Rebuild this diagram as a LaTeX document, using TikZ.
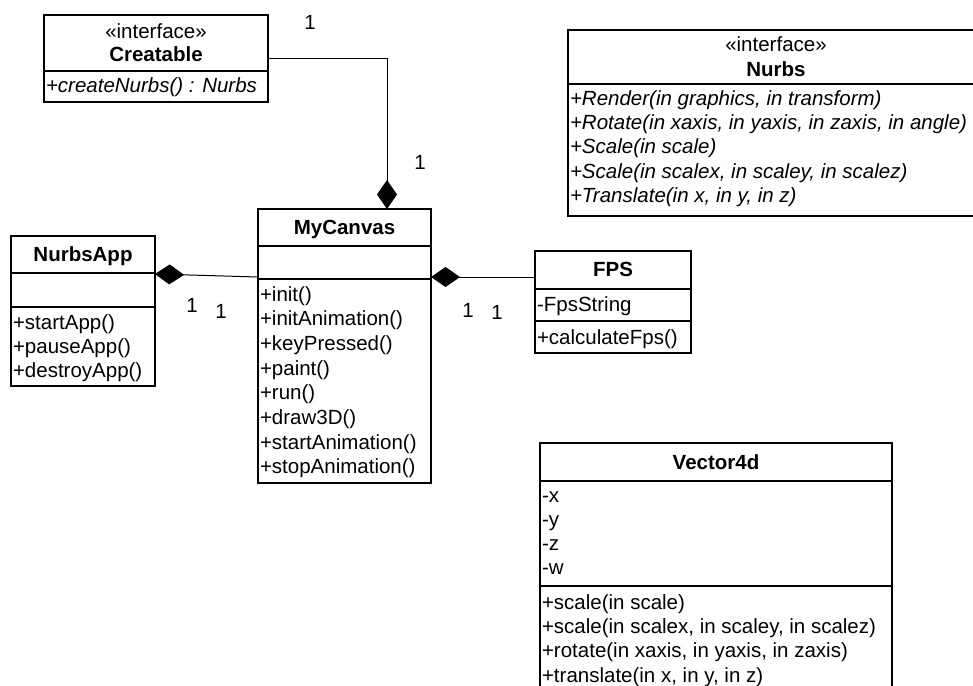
\documentclass[tikz,border=0pt]{standalone}
\usepackage{fontspec}
\setmainfont{Liberation Sans}
\usetikzlibrary{arrows.meta}
\newcommand{\umlfont}{\fontsize{20.5}{24.5}\selectfont}
\begin{document}
\begin{tikzpicture}[x=1pt,y=-1pt,
  every node/.style={font=\umlfont, inner sep=0pt, outer sep=0pt},
  classbox/.style={draw, line width=1.5pt, anchor=north west},
  sep/.style={line width=1.5pt},
  stereo/.style={anchor=base},
  title/.style={anchor=base, font=\umlfont\bfseries},
  member/.style={anchor=base west},
  imember/.style={anchor=base west, font=\umlfont\itshape},
  mult/.style={anchor=center},
  comp/.style={line width=1pt, -{Diamond[length=29pt,width=20pt]}}
]
\clip (0,0) rectangle (973,685);
\fill[white] (0,0) rectangle (973,685);

% ---- Creatable ----
\node[classbox, minimum width=224pt, minimum height=87pt] (creatable) at (44,15) {};
\draw[sep] (creatable.west |- 0,71) -- (creatable.east |- 0,71);
\node[stereo] (creatableS) at (156,39) {«interface»};
\node[title] (creatableT) at (156,61) {Creatable};
\node[imember] (creatableM) at (46,92) {+createNurbs() : Nurbs};

% ---- Nurbs ----
\node[classbox, minimum width=416pt, minimum height=186pt] (nurbs) at (568,30) {};
\draw[sep] (nurbs.west |- 0,84) -- (nurbs.east |- 0,84);
\node[stereo] (nurbsS) at (776,52) {«interface»};
\node[title] (nurbsT) at (776,76) {Nurbs};
\foreach \t [count=\i from 0] in {{+Render(in graphics, in transform)},
  {+Rotate(in xaxis, in yaxis, in zaxis, in angle)},
  {+Scale(in scale)},
  {+Scale(in scalex, in scaley, in scalez)},
  {+Translate(in x, in y, in z)}}
  \node[imember] (nurbsM\i) at (570,105+24.4*\i) {\t};

% ---- MyCanvas ----
\node[classbox, minimum width=173pt, minimum height=274pt] (canvas) at (258,209) {};
\draw[sep] (canvas.west |- 0,246) -- (canvas.east |- 0,246);
\draw[sep] (canvas.west |- 0,279) -- (canvas.east |- 0,279);
\node[title] (canvasT) at (344.5,234) {MyCanvas};
\foreach \t [count=\i from 0] in {+init(),+initAnimation(),+keyPressed(),+paint(),
  +run(),+draw3D(),+startAnimation(),+stopAnimation()}
  \node[member] (canvasM\i) at (260,301+24.7*\i) {\t};

% ---- NurbsApp ----
\node[classbox, minimum width=144pt, minimum height=150pt] (app) at (11,236) {};
\draw[sep] (app.west |- 0,273) -- (app.east |- 0,273);
\draw[sep] (app.west |- 0,307) -- (app.east |- 0,307);
\node[title] (appT) at (83,261) {NurbsApp};
\foreach \t [count=\i from 0] in {+startApp(),+pauseApp(),+destroyApp()}
  \node[member] (appM\i) at (13,329+24*\i) {\t};

% ---- FPS ----
\node[classbox, minimum width=156pt, minimum height=102pt] (fps) at (535,251) {};
\draw[sep] (fps.west |- 0,289) -- (fps.east |- 0,289);
\draw[sep] (fps.west |- 0,321) -- (fps.east |- 0,321);
\node[title] (fpsT) at (613,276) {FPS};
\node[member] (fpsA) at (537,311) {-FpsString};
\node[member] (fpsM) at (537,344) {+calculateFps()};

% ---- Vector4d ----
\node[classbox, minimum width=352pt, minimum height=262pt] (vec) at (540,443) {};
\draw[sep] (vec.west |- 0,481) -- (vec.east |- 0,481);
\draw[sep] (vec.west |- 0,586) -- (vec.east |- 0,586);
\node[title] (vecT) at (716,469) {Vector4d};
\foreach \t [count=\i from 0] in {-x,-y,-z,-w}
  \node[member] (vecA\i) at (542,502+24.2*\i) {\t};
\foreach \t [count=\i from 0] in {{+scale(in scale)},
  {+scale(in scalex, in scaley, in scalez)},
  {+rotate(in xaxis, in yaxis, in zaxis)},
  {+translate(in x, in y, in z)}}
  \node[member] (vecM\i) at (542,609+24.4*\i) {\t};

% ---- composition connectors ----
\coordinate (canvasTop) at (387,209);
\coordinate (canvasLeft) at (258,277);
\coordinate (appRight) at (155,274);
\coordinate (canvasRight) at (431,277);
\coordinate (fpsLeft) at (535,277);

\draw[comp] (creatable.east) -| (canvasTop);
\draw[comp] (canvasLeft) -- (appRight);
\draw[comp] (fpsLeft) -- (canvasRight);

% ---- multiplicities ----
\node[mult] (m1) at (310,22) {1};
\node[mult] (m2) at (420,162) {1};
\node[mult] (m3) at (192,305) {1};
\node[mult] (m4) at (221,311) {1};
\node[mult] (m5) at (468,310) {1};
\node[mult] (m6) at (497,312) {1};
\end{tikzpicture}
\end{document}
